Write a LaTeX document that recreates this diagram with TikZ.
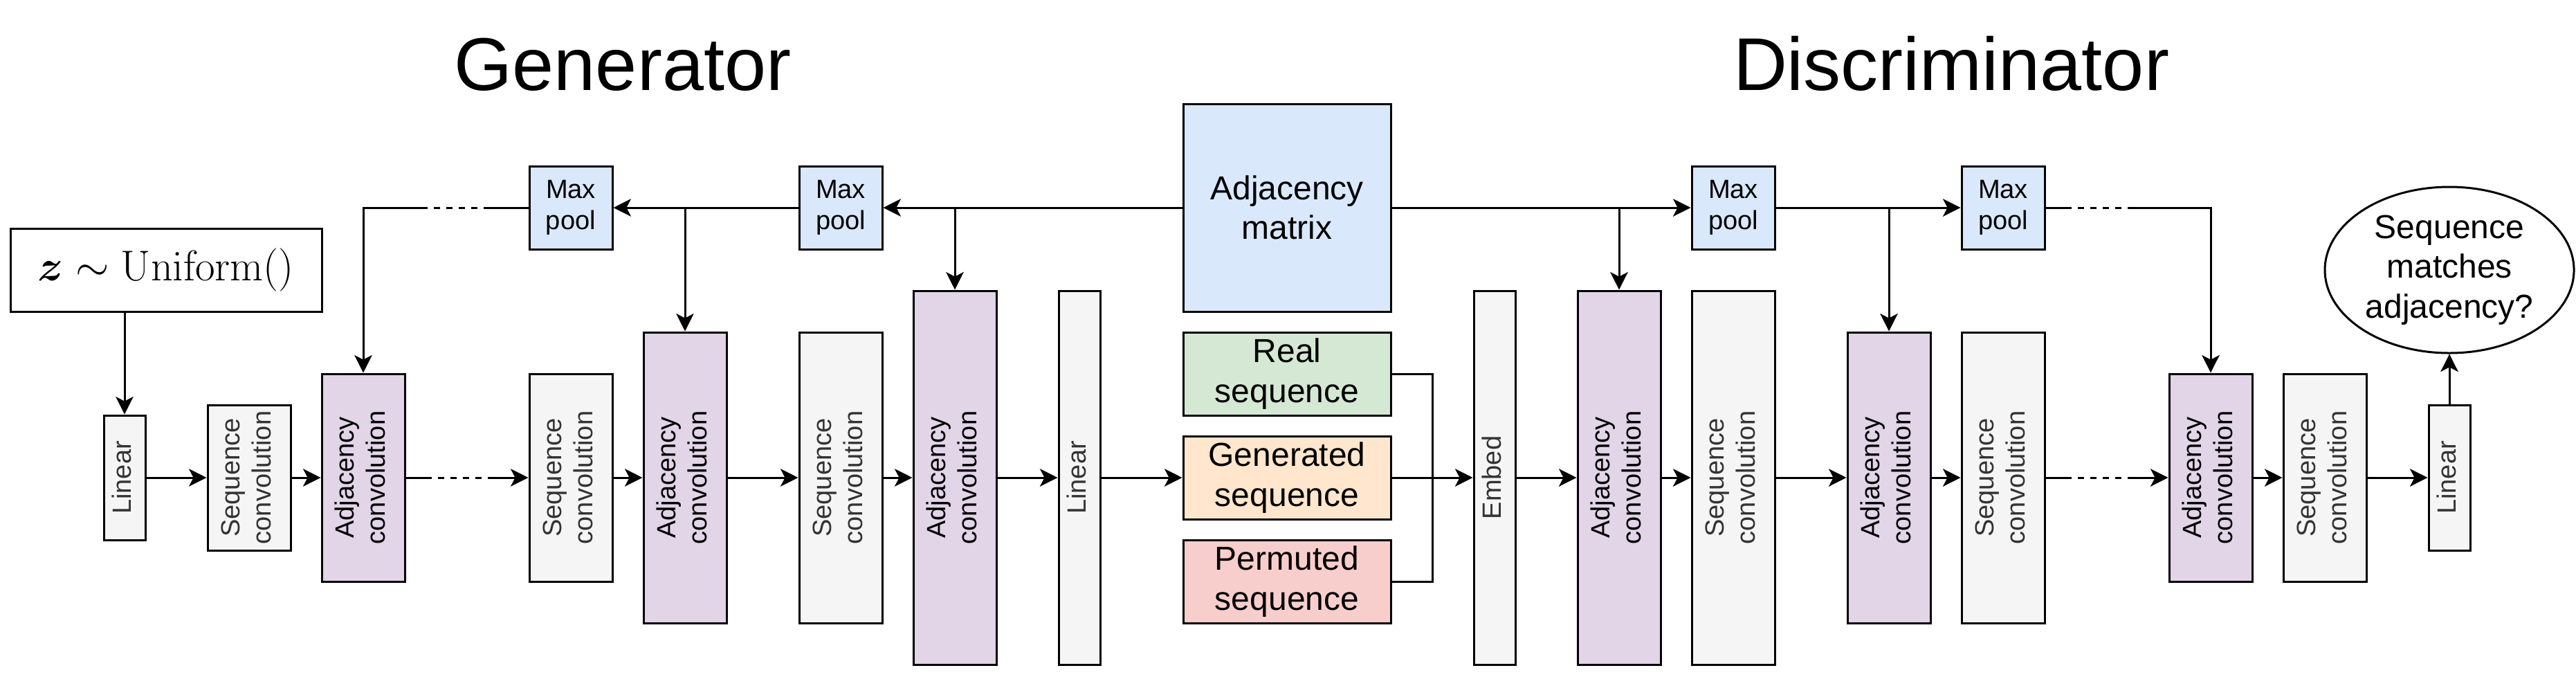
\documentclass[tikz,border=0pt]{standalone}
\usepackage{amsmath}
\usepackage[no-math]{fontspec}
\setmainfont{Liberation Sans}
\usetikzlibrary{arrows.meta,shapes.geometric}
\definecolor{cgrey}{HTML}{F5F5F5}
\definecolor{cgreytext}{HTML}{333333}
\definecolor{cpurple}{HTML}{E1D5E7}
\definecolor{cblue}{HTML}{DAE8FC}
\definecolor{cgreen}{HTML}{D5E8D4}
\definecolor{corange}{HTML}{FFE6CC}
\definecolor{cred}{HTML}{F8CECC}
\newcommand\vtxt[1]{\rotatebox{90}{\begin{tabular}{@{}c@{}}#1\end{tabular}}}
\tikzset{
  blk/.style={draw=black, line width=1pt, inner sep=0pt, align=center, font=\fontsize{12.7}{15.2}\selectfont},
  gbox/.style={blk, fill=cgrey, text=cgreytext},
  pbox/.style={blk, fill=cpurple},
  bbox/.style={blk, fill=cblue},
  seqbox/.style={blk, font=\fontsize{16}{19.2}\selectfont, minimum width=100pt, minimum height=40pt},
  sz/.style 2 args={minimum width=#1, minimum height=#2},
  con/.style={line width=1pt},
  arr/.style={con, -{Stealth[length=8.5pt,width=8.5pt,inset=2.2pt]}},
  dsh/.style={con, dash pattern=on 3pt off 3pt},
  ttl/.style={font=\fontsize{36}{43}\selectfont, anchor=base},
}
\begin{document}
\begin{tikzpicture}[x=1pt, y=-1pt]
\path[use as bounding box] (0,0) rectangle (1241,330);

% titles
\node[ttl] (tgen) at (300,43.5) {Generator};
\node[ttl] (tdis) at (940,43.5) {Discriminator};

% generator
\node[blk, sz={150pt}{40pt}, font=\fontsize{19.5}{23}\selectfont] (zbox) at (80,130) {$\boldsymbol{z}\sim\mathrm{Uniform}()$};
\node[gbox, sz={20pt}{60pt}] (linG) at (60,230) {\vtxt{Linear}};
\node[gbox, sz={40pt}{70pt}] (sc1) at (120,230) {\vtxt{Sequence\\convolution}};
\node[pbox, sz={40pt}{100pt}] (ac1) at (175,230) {\vtxt{Adjacency\\convolution}};
\node[bbox, sz={40pt}{40pt}] (mp1) at (275,100) {Max\\pool};
\node[gbox, sz={40pt}{100pt}] (sc2) at (275,230) {\vtxt{Sequence\\convolution}};
\node[pbox, sz={40pt}{140pt}] (ac2) at (330,230) {\vtxt{Adjacency\\convolution}};
\node[bbox, sz={40pt}{40pt}] (mp2) at (405,100) {Max\\pool};
\node[gbox, sz={40pt}{140pt}] (sc3) at (405,230) {\vtxt{Sequence\\convolution}};
\node[pbox, sz={40pt}{180pt}] (ac3) at (460,230) {\vtxt{Adjacency\\convolution}};
\node[gbox, sz={20pt}{180pt}] (linG2) at (520,230) {\vtxt{Linear}};

% middle
\node[bbox, sz={100pt}{100pt}, font=\fontsize{16}{19.2}\selectfont] (adj) at (620,100) {Adjacency\\matrix};
\node[seqbox, fill=cgreen] (real) at (620,180) {Real\\sequence};
\node[seqbox, fill=corange] (gen) at (620,230) {Generated\\sequence};
\node[seqbox, fill=cred] (perm) at (620,280) {Permuted\\sequence};

% discriminator
\node[gbox, sz={20pt}{180pt}] (embed) at (720,230) {\vtxt{Embed}};
\node[pbox, sz={40pt}{180pt}] (dac1) at (780,230) {\vtxt{Adjacency\\convolution}};
\node[gbox, sz={40pt}{180pt}] (dsc1) at (835,230) {\vtxt{Sequence\\convolution}};
\node[bbox, sz={40pt}{40pt}] (dmp1) at (835,100) {Max\\pool};
\node[pbox, sz={40pt}{140pt}] (dac2) at (910,230) {\vtxt{Adjacency\\convolution}};
\node[gbox, sz={40pt}{140pt}] (dsc2) at (965,230) {\vtxt{Sequence\\convolution}};
\node[bbox, sz={40pt}{40pt}] (dmp2) at (965,100) {Max\\pool};
\node[pbox, sz={40pt}{100pt}] (dac3) at (1065,230) {\vtxt{Adjacency\\convolution}};
\node[gbox, sz={40pt}{100pt}] (dsc3) at (1120,230) {\vtxt{Sequence\\convolution}};
\node[gbox, sz={20pt}{70pt}] (linD) at (1180,230) {\vtxt{Linear}};
\node[ellipse, draw=black, line width=1pt, inner sep=0pt, minimum width=120pt, minimum height=80pt, align=center, font=\fontsize{16}{19.2}\selectfont] (out) at (1180,130) {Sequence\\matches\\adjacency?};

% helper coordinates
\coordinate (gA) at (205,230);
\coordinate (gB) at (236,230);
\coordinate (tA) at (205,100);
\coordinate (tB) at (236,100);
\coordinate (j) at (690,230);
\coordinate (dA) at (995,230);
\coordinate (dB) at (1026,230);
\coordinate (uA) at (995,100);
\coordinate (uB) at (1026,100);

% generator main flow
\draw[arr] (linG |- zbox.south) -- (linG.north);
\draw[arr] (linG) -- (sc1);
\draw[arr] (sc1) -- (ac1);
\draw[con] (ac1.east) -- (gA);
\draw[dsh] (gA) -- (gB);
\draw[arr] (gB) -- (sc2.west);
\draw[arr] (sc2) -- (ac2);
\draw[arr] (ac2) -- (sc3);
\draw[arr] (sc3) -- (ac3);
\draw[arr] (ac3) -- (linG2);
\draw[arr] (linG2) -- (gen);

% generator top line
\draw[arr] (adj.west) -- (mp2.east);
\draw[arr] (ac3 |- adj.west) -- (ac3.north);
\draw[arr] (mp2.west) -- (mp1.east);
\draw[arr] (ac2 |- mp2.west) -- (ac2.north);
\draw[con] (mp1.west) -- (tB);
\draw[dsh] (tB) -- (tA);
\draw[arr] (tA) -- (ac1 |- mp1.west) -- (ac1.north);

% sequences into embed
\draw[arr] (gen) -- (embed);
\draw[con] (real.east) -- (real.east -| j) -- (j);
\draw[con] (perm.east) -- (perm.east -| j) -- (j);

% discriminator main flow
\draw[arr] (embed) -- (dac1);
\draw[arr] (dac1) -- (dsc1);
\draw[arr] (dsc1) -- (dac2);
\draw[arr] (dac2) -- (dsc2);
\draw[con] (dsc2.east) -- (dA);
\draw[dsh] (dA) -- (dB);
\draw[arr] (dB) -- (dac3.west);
\draw[arr] (dac3) -- (dsc3);
\draw[arr] (dsc3) -- (linD);
\draw[arr] (linD.north) -- (out.south);

% discriminator top line
\draw[arr] (adj.east) -- (dmp1.west);
\draw[arr] (dac1 |- adj.east) -- (dac1.north);
\draw[arr] (dmp1.east) -- (dmp2.west);
\draw[arr] (dac2 |- dmp1.east) -- (dac2.north);
\draw[con] (dmp2.east) -- (uA);
\draw[dsh] (uA) -- (uB);
\draw[arr] (uB) -- (dac3 |- dmp2.east) -- (dac3.north);
\end{tikzpicture}
\end{document}
